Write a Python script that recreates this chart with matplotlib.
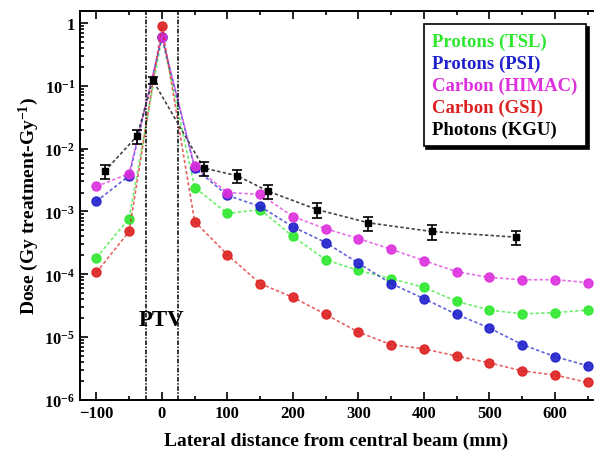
import matplotlib.pyplot as plt
import matplotlib.ticker as mticker
from matplotlib.lines import Line2D

plt.rcParams['font.family'] = ['Liberation Serif', 'DejaVu Serif']
plt.rcParams['font.weight'] = 'bold'
plt.rcParams['mathtext.fontset'] = 'custom'
plt.rcParams['mathtext.rm'] = 'Liberation Serif:bold'
plt.rcParams['mathtext.bf'] = 'Liberation Serif:bold'
plt.rcParams['mathtext.it'] = 'Liberation Serif:bold:italic'

# distances (mm) for particle beams
dist = [-100, -50, 0, 50, 100, 150, 200, 250, 300, 350, 400, 450, 500, 550, 600, 650]

# dose values (Gy / treatment-Gy)
protons_tsl = [1.85e-4, 7.7e-4, 0.6, 2.4e-3, 9.3e-4, 1.07e-3, 4.0e-4, 1.7e-4, 1.15e-4,
               8.5e-5, 6.2e-5, 3.7e-5, 2.7e-5, 2.35e-5, 2.45e-5, 2.7e-5]
protons_psi = [1.45e-3, 3.7e-3, 0.6, 4.9e-3, 1.8e-3, 1.2e-3, 5.7e-4, 3.2e-4, 1.5e-4,
               7.1e-5, 4.1e-5, 2.3e-5, 1.4e-5, 7.6e-6, 4.9e-6, 3.5e-6]
carbon_himac = [2.5e-3, 4.0e-3, 0.6, 5.2e-3, 2.0e-3, 1.87e-3, 8.3e-4, 5.3e-4, 3.7e-4,
                2.5e-4, 1.65e-4, 1.1e-4, 8.9e-5, 8.2e-5, 8.2e-5, 7.4e-5]
carbon_gsi = [1.07e-4, 4.8e-4, 0.9, 6.9e-4, 2.05e-4, 7.1e-5, 4.3e-5, 2.3e-5, 1.2e-5,
              7.6e-6, 6.5e-6, 5.0e-6, 3.9e-6, 2.9e-6, 2.5e-6, 1.9e-6]

# photons measured at other positions
photon_dist = [-87, -38, -14, 64, 115, 162, 237, 315, 412, 540]
photons_kgu = [4.4e-3, 1.58e-2, 0.123, 4.9e-3, 3.7e-3, 2.1e-3, 1.07e-3, 6.6e-4, 4.8e-4, 3.9e-4]
photon_err = [1.1e-3, 4.0e-3, 1.5e-2, 1.2e-3, 9.0e-4, 5.0e-4, 2.8e-4, 1.7e-4, 1.3e-4, 1.0e-4]

labels = ['Protons (TSL)', 'Protons (PSI)', 'Carbon (HIMAC)', 'Carbon (GSI)', 'Photons (KGU)']
colors = ['#2ee82e', '#2020cc', '#dd30dd', '#dd2020', '#000000']

fig = plt.figure(figsize=(5.94, 4.60), dpi=100)
ax = fig.add_axes([0.1347, 0.1283, 0.8636, 0.8457])

dash = (0, (2.0, 1.4))
series = [protons_tsl, protons_psi, carbon_himac, carbon_gsi]
for vals, c in zip(series, colors[:4]):
    ax.plot(dist, vals, linestyle=dash, color=c, lw=1.2, alpha=0.7)
    ax.plot(dist, vals, linestyle='none', marker='o', ms=6.5, color=c, mec=c, alpha=0.9)

ax.plot(photon_dist, photons_kgu, linestyle=dash, color='#444444', lw=1.2, zorder=4)
ax.errorbar(photon_dist, photons_kgu, yerr=photon_err, fmt='s', color='black', ms=5,
            ecolor='black', elinewidth=1.2, capsize=3.5, capthick=1.2, zorder=5)

# PTV borders
for xv in (-25, 25):
    ax.axvline(xv, color='black', lw=1.1, linestyle=(0, (3, 1, 1, 1)))
ax.text(0, 1.9e-5, 'PTV', ha='center', va='center', fontsize=16.5, fontweight='bold')

ax.set_yscale('log')
ax.set_xlim(-125, 658)
ax.set_ylim(1e-6, 1.55)

ax.set_xticks([-100, 0, 100, 200, 300, 400, 500, 600])
ax.xaxis.set_minor_locator(mticker.MultipleLocator(50))
ax.set_yticks([1e-6, 1e-5, 1e-4, 1e-3, 1e-2, 1e-1, 1])
ax.set_yticklabels([r'$\mathbf{10^{-6}}$', r'$\mathbf{10^{-5}}$', r'$\mathbf{10^{-4}}$',
                    r'$\mathbf{10^{-3}}$', r'$\mathbf{10^{-2}}$', r'$\mathbf{10^{-1}}$', '1'])
ax.yaxis.set_minor_locator(mticker.LogLocator(base=10, subs=range(2, 10), numticks=20))
ax.yaxis.set_minor_formatter(mticker.NullFormatter())
ax.tick_params(which='both', direction='in', top=True, right=False, labelsize=12, width=1.2)
ax.tick_params(which='major', length=6)
ax.tick_params(which='minor', length=3)
for lab in ax.get_xticklabels() + ax.get_yticklabels():
    lab.set_fontweight('bold')
ax.spines['right'].set_visible(False)
for s in ('left', 'bottom', 'top'):
    ax.spines[s].set_linewidth(1.4)

ax.set_xlabel('Lateral distance from central beam (mm)', fontsize=14, fontweight='bold', labelpad=8)
ax.set_ylabel(r'Dose (Gy treatment-Gy$^{-1}$)', fontsize=14, fontweight='bold', labelpad=2)

# legend: coloured text only, black drop shadow
handles = [Line2D([], [], linestyle='none') for _ in labels]
leg = ax.legend(handles, labels, loc='upper right', bbox_to_anchor=(0.986, 0.967),
                borderaxespad=0, handlelength=0, handletextpad=0, labelcolor=colors,
                fancybox=False, framealpha=1, edgecolor='black',
                shadow={'color': 'black', 'alpha': 1},
                prop={'size': 13.5, 'weight': 'bold'}, borderpad=0.45, labelspacing=0.25)
leg.get_frame().set_linewidth(1.2)

plt.savefig('out.png', dpi=100)
